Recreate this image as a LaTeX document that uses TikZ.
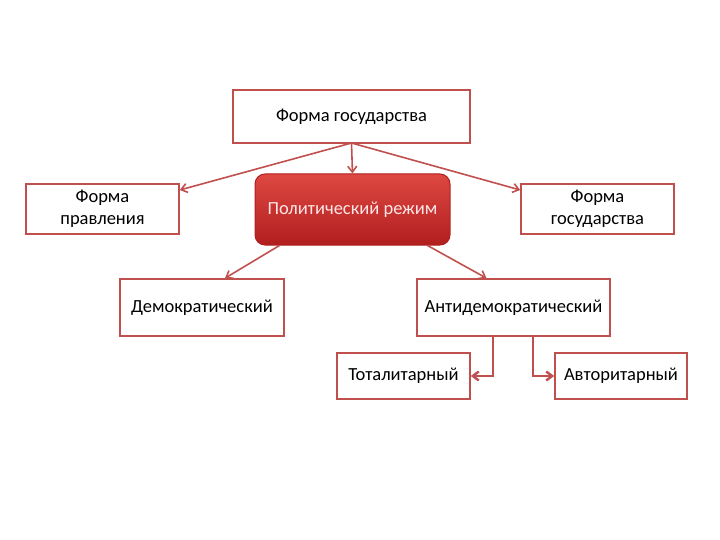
\documentclass[tikz,border=0pt]{standalone}
\usepackage{fontspec}
\setmainfont{Carlito}
\usetikzlibrary{arrows.meta}
\definecolor{bord}{RGB}{192,80,77}
\definecolor{redtop}{RGB}{222,72,66}
\definecolor{redbot}{RGB}{176,30,30}
\tikzset{
  box/.style={draw=bord, line width=1.6pt, fill=white, align=center, font=\fontsize{18.5}{22}\selectfont, inner sep=0pt},
  conn/.style={draw=bord, line width=1.6pt, -{Straight Barb[length=6pt,width=9pt]}},
  thickconn/.style={conn, line width=2.4pt},
}
\begin{document}
\begin{tikzpicture}[x=1pt,y=-1pt]
\useasboundingbox (0,0) rectangle (720,540);
\node[box, minimum width=237pt, minimum height=53pt] (top) at (351.5,116.5) {Форма государства};
\node[box, minimum width=153pt, minimum height=50pt] (left) at (102.5,209) {Форма\\правления};
\node[box, minimum width=153pt, minimum height=50pt] (right) at (597.5,209) {Форма\\государства};
\node[draw=redbot, line width=1pt, rounded corners=10pt, top color=redtop, bottom color=redbot, text=white!90!red, font=\fontsize{18.5}{22}\selectfont, minimum width=195pt, minimum height=71pt] (mid) at (352.5,209.5) {Политический режим};
\node[box, minimum width=164pt, minimum height=57pt] (dem) at (202,307.5) {Демократический};
\node[box, minimum width=193pt, minimum height=57pt] (anti) at (513.5,307.5) {Антидемократический};
\node[box, minimum width=133pt, minimum height=46pt] (tot) at (403.5,376) {Тоталитарный};
\node[box, minimum width=132pt, minimum height=46pt] (avt) at (621,376) {Авторитарный};
\coordinate (tb) at (351.5,143);
\draw[conn] (tb) -- (mid.north);
\draw[conn] (tb) -- (left.east |- 0,190);
\draw[conn] (tb) -- (right.west |- 0,190);
\draw[conn] ([xshift=25pt]mid.south west) -- ([xshift=23pt]dem.north);
\draw[conn] ([xshift=-23pt]mid.south east) -- ([xshift=-27pt]anti.north);
\draw[thickconn] ([xshift=-20.5pt]anti.south) |- (tot.east);
\draw[thickconn] ([xshift=19.5pt]anti.south) |- (avt.west);
\end{tikzpicture}
\end{document}
